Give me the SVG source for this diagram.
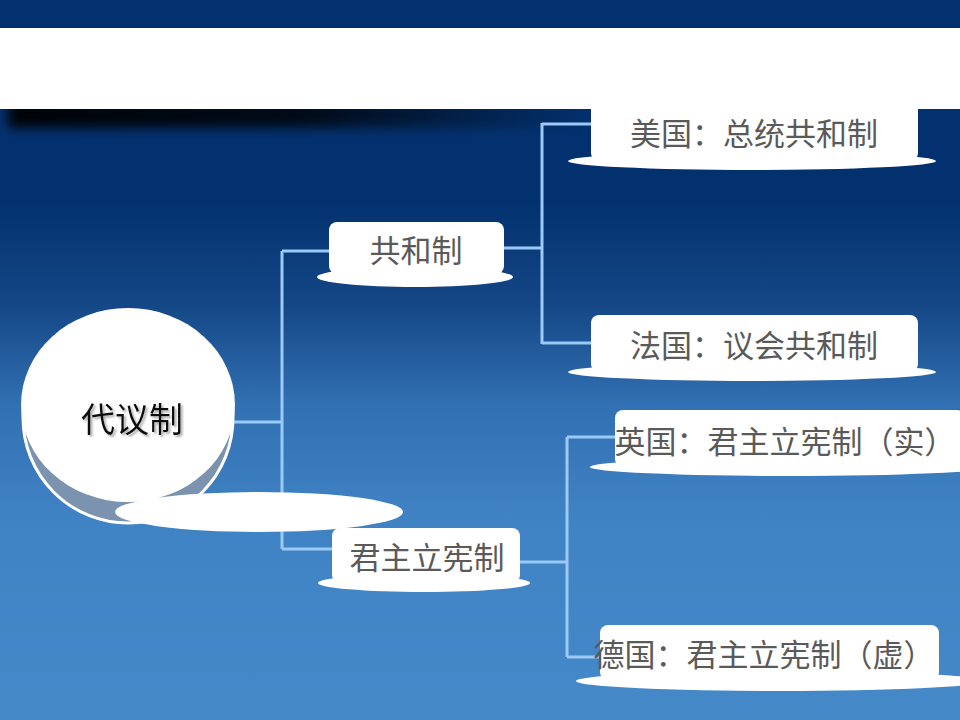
<svg xmlns="http://www.w3.org/2000/svg" width="960" height="720" viewBox="0 0 960 720">
<defs>
<linearGradient id="bg" x1="0" y1="0" x2="0" y2="1">
<stop offset="0" stop-color="#03316f"/>
<stop offset="0.28" stop-color="#03316f"/>
<stop offset="0.42" stop-color="#144685"/>
<stop offset="0.56" stop-color="#3170b2"/>
<stop offset="0.72" stop-color="#4083c4"/>
<stop offset="1" stop-color="#4689c9"/>
</linearGradient>
<linearGradient id="sh" x1="0" y1="0" x2="1" y2="0">
<stop offset="0" stop-color="#000" stop-opacity="0.95"/>
<stop offset="0.5" stop-color="#000" stop-opacity="0.8"/>
<stop offset="1" stop-color="#000" stop-opacity="0"/>
</linearGradient>
<filter id="blur" x="-20%" y="-100%" width="140%" height="300%"><feGaussianBlur stdDeviation="6"/></filter>
<filter id="tshadow" x="-10%" y="-10%" width="120%" height="130%"><feDropShadow dx="2" dy="2" stdDeviation="0.8" flood-color="#999" flood-opacity="0.8"/></filter>
<clipPath id="below"><rect x="0" y="109" width="960" height="60"/></clipPath>
</defs>
<style>
.node{fill:#fff}
.lbl{font-family:"Noto Sans CJK SC","Noto Sans CJK JP",sans-serif;font-size:31px;fill:#5a5a5a;text-anchor:middle}
.conn{stroke:#9ccaf8;stroke-width:3;fill:none}
</style>
<rect x="0" y="0" width="960" height="720" fill="url(#bg)"/>
<g clip-path="url(#below)">
<rect x="8" y="102" width="585" height="26" fill="url(#sh)" filter="url(#blur)"/>
</g>
<rect x="0" y="28" width="960" height="81" fill="#fff"/>

<g id="connectors">
<path class="conn" d="M234 422 H282 M282 251 V549 M282 251 H330 M282 549 H333"/>
<path class="conn" d="M498 248 H542" stroke-width="5"/>
<path class="conn" d="M542 123 V344 M542 124 H592 M542 343 H592"/>
<path class="conn" d="M519 562 H567 M567 437 V657 M567 437 H616 M567 657 H601"/>
</g>

<g id="node-daiyi">
<circle cx="128" cy="418" r="105" fill="#7b93ae" stroke="#fff" stroke-width="3"/>
<ellipse cx="128" cy="405" rx="107" ry="97" fill="#fff"/>
<ellipse cx="259" cy="512" rx="144" ry="20" fill="#fff"/>
<text x="132" y="432" class="lbl" style="font-size:34px;fill:#111" filter="url(#tshadow)">代议制</text>
</g>

<g id="node-gonghe">
<ellipse cx="415" cy="277" rx="98" ry="10" class="node"/>
<rect x="329" y="222" width="175" height="52" rx="8" class="node"/>
<text x="416" y="262" class="lbl">共和制</text>
</g>

<g id="node-junzhu">
<ellipse cx="424" cy="583" rx="106" ry="9" class="node"/>
<rect x="332" y="528" width="188" height="55" rx="8" class="node"/>
<text x="427" y="569" class="lbl">君主立宪制</text>
</g>

<g id="node-meiguo">
<ellipse cx="752" cy="161" rx="184" ry="9" class="node"/>
<rect x="591" y="100" width="327" height="61" rx="8" class="node"/>
<text x="754" y="145" class="lbl">美国：总统共和制</text>
</g>

<g id="node-faguo">
<ellipse cx="752" cy="372" rx="184" ry="9" class="node"/>
<rect x="591" y="315" width="327" height="57" rx="8" class="node"/>
<text x="754" y="357" class="lbl">法国：议会共和制</text>
</g>

<g id="node-yingguo">
<ellipse cx="790" cy="467" rx="200" ry="9" class="node"/>
<rect x="615" y="410" width="350" height="57" rx="8" class="node"/>
<text x="785" y="453" class="lbl">英国：君主立宪制（实）</text>
</g>

<g id="node-deguo">
<ellipse cx="780" cy="681" rx="204" ry="10" class="node"/>
<rect x="600" y="625" width="339" height="55" rx="8" class="node"/>
<text x="764" y="666" class="lbl">德国：君主立宪制（虚）</text>
</g>
</svg>
